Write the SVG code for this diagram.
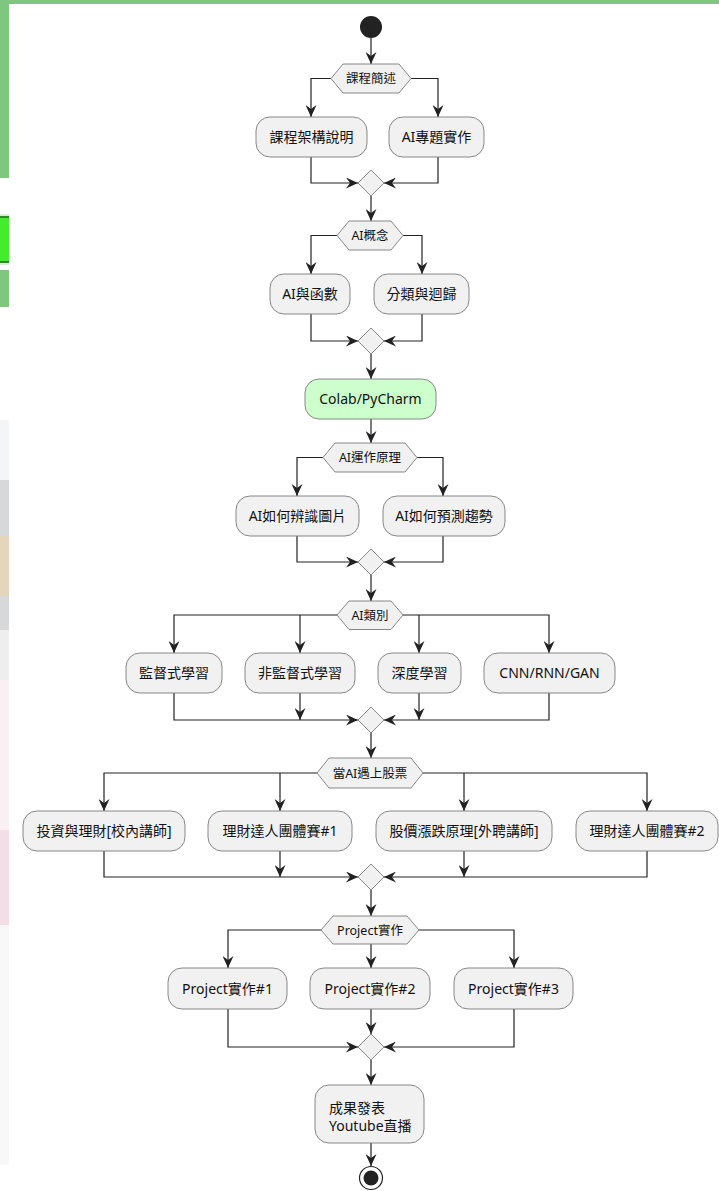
<svg xmlns="http://www.w3.org/2000/svg" width="719" height="1191" viewBox="0 0 719 1191">
<style>
.box{fill:#F1F1F1;stroke:#7a7a7a;stroke-width:0.9}
.green{fill:#CCFFCC;stroke:#7a7a7a;stroke-width:0.9}
.hex{fill:#F1F1F1;stroke:#7a7a7a;stroke-width:0.9}
.t{font-family:"Noto Sans","Noto Sans CJK TC",sans-serif;font-size:14px;fill:#111;text-anchor:middle}
.ht{font-family:"Noto Sans","Noto Sans CJK TC",sans-serif;font-size:12.5px;fill:#111;text-anchor:middle}
.c{fill:none;stroke:#222;stroke-width:1.2}
.a{marker-end:url(#ah)}
</style>
<defs>
<marker id="ah" markerUnits="userSpaceOnUse" markerWidth="12" markerHeight="11" refX="12" refY="5.5" orient="auto" viewBox="0 0 12 11">
<path d="M0,0 L12,5.5 L0,11 L4,5.5 Z" fill="#222"/>
</marker>
</defs>
<rect width="719" height="1191" fill="#ffffff"/>
<g id="background">
<rect x="0" y="0" width="719" height="4" fill="#7FC67F"/>
<rect x="0" y="0" width="9" height="178" fill="#7FC67F"/>
<rect x="0" y="214" width="9" height="51" fill="#d8ecd8"/>
<rect x="0" y="216" width="9" height="47" fill="#2E8B22"/>
<rect x="0" y="218" width="9" height="43" fill="#44EC2E"/>
<rect x="0" y="270" width="9" height="37" fill="#7FC67F"/>
<rect x="0" y="420" width="9" height="210" fill="#f4f5f6"/>
<rect x="0" y="480" width="9" height="150" fill="#d6d8da"/>
<rect x="0" y="536" width="9" height="60" fill="#e3d6bc"/>
<rect x="0" y="630" width="9" height="50" fill="#eeeeef"/>
<rect x="0" y="680" width="9" height="245" fill="#faf0f4"/>
<rect x="0" y="830" width="9" height="95" fill="#f3dde7"/>
<rect x="0" y="925" width="9" height="240" fill="#f8f8f8"/>
</g>
<g id="connectors">
<path class="c a" d="M371,38 V64"/>
<path class="c a" d="M331,78.5 H311 V117"/>
<path class="c a" d="M411,78.5 H438 V117"/>
<path class="c a" d="M311,157 V183 H358"/>
<path class="c a" d="M438,157 V183 H384"/>
<path class="c a" d="M371,196 V221"/>
<path class="c a" d="M337,235.5 H311 V274"/>
<path class="c a" d="M403,235.5 H422 V274"/>
<path class="c a" d="M311,314 V341 H358"/>
<path class="c a" d="M422,314 V341 H384"/>
<path class="c a" d="M371,354 V379"/>
<path class="c a" d="M371,419 V443"/>
<path class="c a" d="M323,457.5 H297 V496"/>
<path class="c a" d="M417,457.5 H443 V496"/>
<path class="c a" d="M297,536 V562 H358"/>
<path class="c a" d="M443,536 V562 H384"/>
<path class="c a" d="M371,575 V601"/>
<path class="c a" d="M337,615 H174 V653"/>
<path class="c a" d="M300,615 V653"/>
<path class="c a" d="M403,615 H549 V653"/>
<path class="c a" d="M419,615 V653"/>
<path class="c a" d="M174,693 V720 H358"/>
<path class="c a" d="M300,693 V720"/>
<path class="c a" d="M549,693 V720 H384"/>
<path class="c a" d="M419,693 V720"/>
<path class="c a" d="M371,733 V758"/>
<path class="c a" d="M317,773 H104 V811"/>
<path class="c a" d="M280,773 V811"/>
<path class="c a" d="M423,773 H647 V811"/>
<path class="c a" d="M464,773 V811"/>
<path class="c a" d="M104,851 V877 H358"/>
<path class="c a" d="M280,851 V877"/>
<path class="c a" d="M647,851 V877 H384"/>
<path class="c a" d="M464,851 V877"/>
<path class="c a" d="M371,890 V916"/>
<path class="c a" d="M321,930 H228 V968"/>
<path class="c a" d="M371,944 V968"/>
<path class="c a" d="M419,930 H514 V968"/>
<path class="c a" d="M228,1009 V1047 H358"/>
<path class="c a" d="M371,1009 V1034"/>
<path class="c a" d="M514,1009 V1047 H384"/>
<path class="c a" d="M371,1060 V1085"/>
<path class="c a" d="M371,1143 V1166"/>
</g>
<g id="start"><circle cx="371" cy="27" r="11" fill="#222222"/></g>
<g id="hex1"><path class="hex" d="M331,78.5 L343,64 H399 L411,78.5 L399,93 H343 Z"/><text class="ht" x="371" y="83">課程簡述</text></g>
<g id="n1"><rect class="box" x="256" y="117" width="111" height="40" rx="14"/><text class="t" x="311.5" y="142">課程架構說明</text></g>
<g id="n2"><rect class="box" x="389" y="117" width="95" height="40" rx="14"/><text class="t" x="436.5" y="142">AI專題實作</text></g>
<g id="m1"><path class="hex" d="M371,170 L384,183 L371,196 L358,183 Z"/></g>
<g id="hex2"><path class="hex" d="M337,235.5 L349,221 H391 L403,235.5 L391,250 H349 Z"/><text class="ht" x="370" y="240">AI概念</text></g>
<g id="n3"><rect class="box" x="270" y="274" width="80" height="40" rx="14"/><text class="t" x="310" y="299">AI與函數</text></g>
<g id="n4"><rect class="box" x="374" y="274" width="95" height="40" rx="14"/><text class="t" x="421.5" y="299">分類與迴歸</text></g>
<g id="m2"><path class="hex" d="M371,328 L384,341 L371,354 L358,341 Z"/></g>
<g id="n5"><rect class="green" x="305" y="379" width="131" height="40" rx="14"/><text class="t" x="370.5" y="404">Colab/PyCharm</text></g>
<g id="hex3"><path class="hex" d="M323,457.5 L335,443 H405 L417,457.5 L405,472 H335 Z"/><text class="ht" x="370" y="462">AI運作原理</text></g>
<g id="n6"><rect class="box" x="236" y="496" width="123" height="40" rx="14"/><text class="t" x="297.5" y="521">AI如何辨識圖片</text></g>
<g id="n7"><rect class="box" x="383" y="496" width="122" height="40" rx="14"/><text class="t" x="444" y="521">AI如何預測趨勢</text></g>
<g id="m3"><path class="hex" d="M371,549 L384,562 L371,575 L358,562 Z"/></g>
<g id="hex4"><path class="hex" d="M337,615 L349,601 H391 L403,615 L391,629.5 H349 Z"/><text class="ht" x="370" y="619.5">AI類別</text></g>
<g id="n8"><rect class="box" x="126" y="653" width="96" height="40" rx="14"/><text class="t" x="174" y="678">監督式學習</text></g>
<g id="n9"><rect class="box" x="245" y="653" width="110" height="40" rx="14"/><text class="t" x="300" y="678">非監督式學習</text></g>
<g id="n10"><rect class="box" x="378" y="653" width="83" height="40" rx="14"/><text class="t" x="419.5" y="678">深度學習</text></g>
<g id="n11"><rect class="box" x="484" y="653" width="131" height="40" rx="14"/><text class="t" x="549.5" y="678">CNN/RNN/GAN</text></g>
<g id="m4"><path class="hex" d="M371,707 L384,720 L371,733 L358,720 Z"/></g>
<g id="hex5"><path class="hex" d="M317,773 L329,758 H411 L423,773 L411,788 H329 Z"/><text class="ht" x="370" y="777.5">當AI遇上股票</text></g>
<g id="n12"><rect class="box" x="23" y="811" width="162" height="40" rx="14"/><text class="t" x="104" y="836">投資與理財[校內講師]</text></g>
<g id="n13"><rect class="box" x="208" y="811" width="144" height="40" rx="14"/><text class="t" x="280" y="836">理財達人團體賽#1</text></g>
<g id="n14"><rect class="box" x="376" y="811" width="176" height="40" rx="14"/><text class="t" x="464" y="836">股價漲跌原理[外聘講師]</text></g>
<g id="n15"><rect class="box" x="576" y="811" width="142" height="40" rx="14"/><text class="t" x="647" y="836">理財達人團體賽#2</text></g>
<g id="m5"><path class="hex" d="M371,864 L384,877 L371,890 L358,877 Z"/></g>
<g id="hex6"><path class="hex" d="M321,930 L333,916 H407 L419,930 L407,944 H333 Z"/><text class="ht" x="370" y="934.5">Project實作</text></g>
<g id="n16"><rect class="box" x="168" y="968" width="119" height="41" rx="14"/><text class="t" x="227.5" y="993.5">Project實作#1</text></g>
<g id="n17"><rect class="box" x="310" y="968" width="120" height="41" rx="14"/><text class="t" x="370" y="993.5">Project實作#2</text></g>
<g id="n18"><rect class="box" x="454" y="968" width="119" height="41" rx="14"/><text class="t" x="513.5" y="993.5">Project實作#3</text></g>
<g id="m6"><path class="hex" d="M371,1034 L384,1047 L371,1060 L358,1047 Z"/></g>
<g id="n19"><rect class="box" x="315" y="1085" width="109" height="58" rx="14"/><text class="t" x="329" y="1113" style="text-anchor:start">成果發表</text><text class="t" x="329" y="1131" style="text-anchor:start">Youtube直播</text></g>
<g id="end"><circle cx="371" cy="1178" r="11.5" fill="#ffffff" stroke="#222222" stroke-width="1.2"/><circle cx="371" cy="1178" r="7.5" fill="#222222"/></g>
</svg>
